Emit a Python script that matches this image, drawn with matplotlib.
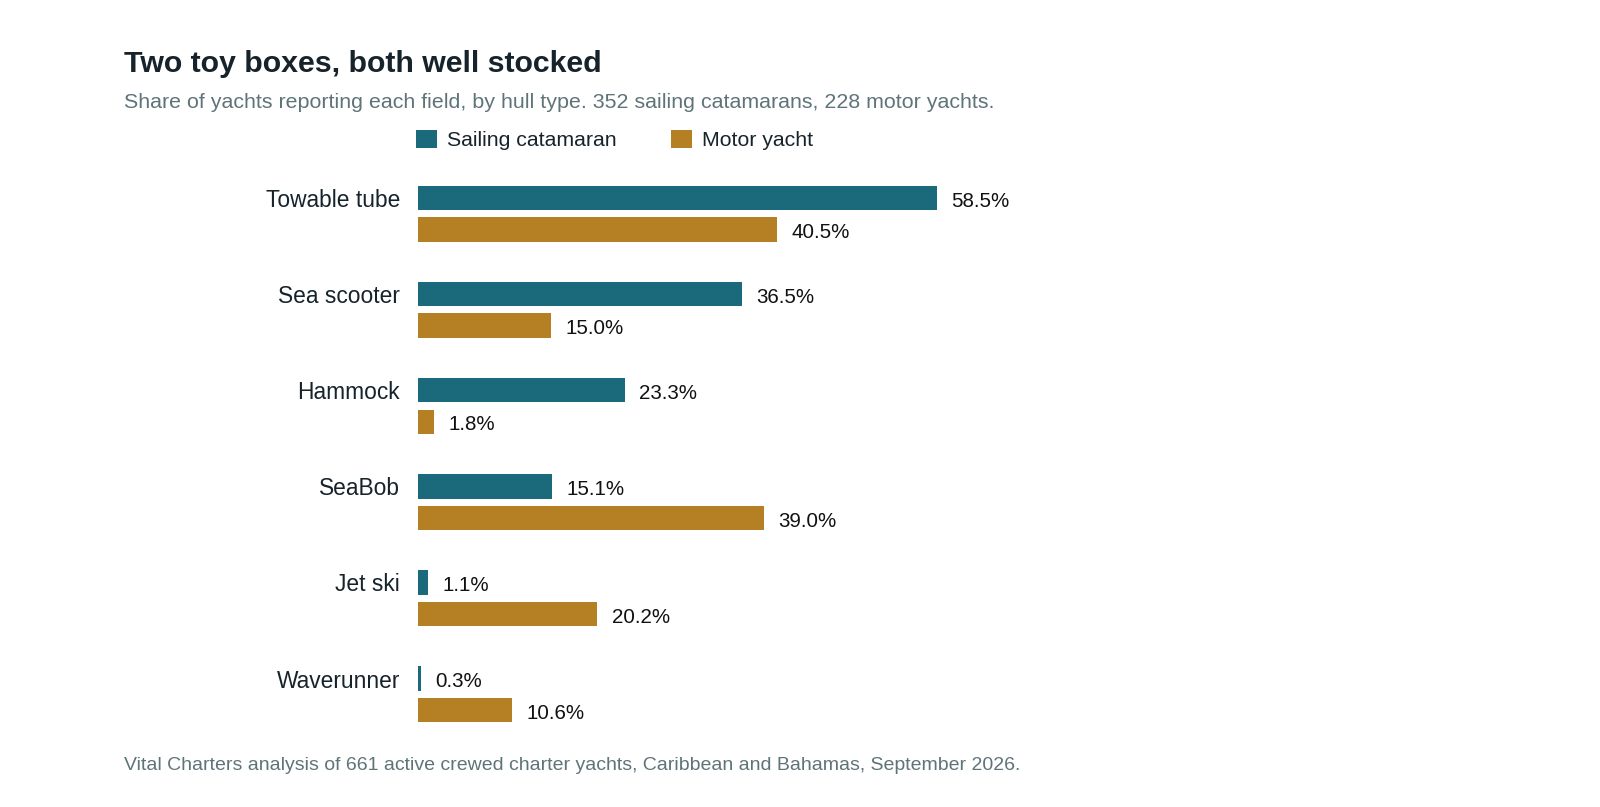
import matplotlib
matplotlib.use("Agg")
import matplotlib.pyplot as plt
from matplotlib.patches import Patch
import numpy as np

categories = ["Towable tube", "Sea scooter", "Hammock", "SeaBob", "Jet ski", "Waverunner"]
sailing = [58.5, 36.5, 23.3, 15.1, 1.1, 0.3]
motor = [40.5, 15.0, 1.8, 39.0, 20.2, 10.6]
series_names = ["Sailing catamaran", "Motor yacht"]

TEAL = "#1b6a7b"
GOLD = "#b57f24"
DARK = "#17232b"
MUTED = "#5f7478"

plt.rcParams['font.family'] = ['Liberation Sans', 'DejaVu Sans']

W, H = 1600, 807
S = 1600 / 1568  # layout measured at 1568-wide scale
fig = plt.figure(figsize=(W / 100, H / 100), dpi=100)
fig.patch.set_facecolor("white")

px_per_pct = 508 / 58.5 * S
xmax = 70
ax_w = xmax * px_per_pct
left_px = 410 * S
g0 = 209.5 * S
gs = 94.2 * S
top_px = g0 - 0.45 * gs
bot_px = g0 + 5.4 * gs
ax = fig.add_axes([left_px / W, 1 - bot_px / H, ax_w / W, (bot_px - top_px) / H])

y = np.arange(len(categories))
off = 0.1645
h = 0.255
ax.barh(y - off, sailing, height=h, color=TEAL, label=series_names[0])
ax.barh(y + off, motor, height=h, color=GOLD, label=series_names[1])

for yi, v in zip(y - off, sailing):
    ax.annotate(f"{v:.1f}%", (v, yi), xytext=(10.3, -2.2), textcoords="offset points",
                va="center", ha="left", fontsize=14.8, color="#111111")
for yi, v in zip(y + off, motor):
    ax.annotate(f"{v:.1f}%", (v, yi), xytext=(10.3, -2.2), textcoords="offset points",
                va="center", ha="left", fontsize=14.8, color="#111111")

ax.set_xlim(0, xmax)
ax.set_ylim(5.4, -0.45)
ax.set_yticks(y - off)
ax.set_yticklabels(categories, fontsize=16.4, color=DARK)
ax.tick_params(axis="y", length=0, pad=13.2)
ax.set_xticks([])
for s in ax.spines.values():
    s.set_visible(False)

handles = [Patch(facecolor=TEAL), Patch(facecolor=GOLD)]
fig.legend(handles, series_names, loc="center left",
           bbox_to_anchor=(408 * S / W, 1 - 137 * S / H), ncol=2, frameon=False,
           fontsize=15.3, handlelength=0.96, handleheight=0.96, handletextpad=0.5,
           columnspacing=2.55, borderpad=0, borderaxespad=0, labelcolor=DARK)

fig.text(122 * S / W, 1 - 63 * S / H, "Two toy boxes, both well stocked", fontsize=21.8,
         fontweight="bold", color=DARK, va="center", ha="left")
fig.text(122 * S / W, 1 - 100 * S / H,
         "Share of yachts reporting each field, by hull type. 352 sailing catamarans, 228 motor yachts.",
         fontsize=15.4, color=MUTED, va="center", ha="left")
fig.text(122 * S / W, 1 - 750 * S / H,
         "Vital Charters analysis of 661 active crewed charter yachts, Caribbean and Bahamas, September 2026.",
         fontsize=14, color=MUTED, va="center", ha="left")

fig.savefig("out.png", dpi=100, facecolor="white")
